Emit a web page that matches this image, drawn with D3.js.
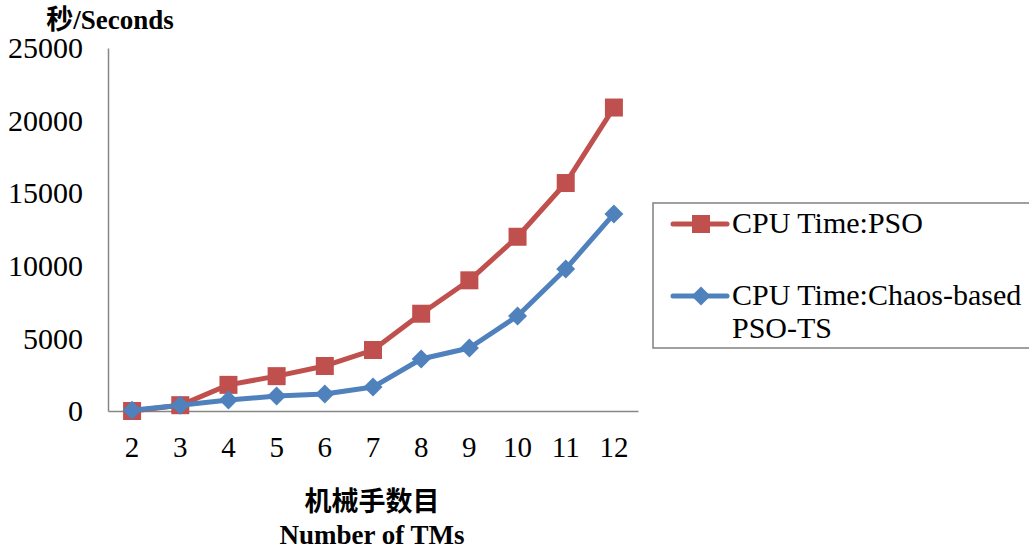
<!DOCTYPE html>
<html><head><meta charset="utf-8">
<script src="https://cdn.jsdelivr.net/npm/d3@7"></script>
<style>body{margin:0;background:#fff}svg{display:block}
svg text{font-family:"Liberation Serif","Noto Sans CJK SC",serif !important}</style>
</head><body><svg id="c" width="1029" height="550"></svg>
<script>
const categories = ["2","3","4","5","6","7","8","9","10","11","12"];
const psoValues = [0,400,1800,2400,3100,4200,6700,9000,12000,15700,20900];
const chaosValues = [50,400,760,1030,1170,1650,3580,4340,6540,9780,13570];
const yTicks = [0,5000,10000,15000,20000,25000];
const seriesNames = ["CPU Time:PSO","CPU Time:Chaos-based PSO-TS"];

const svg = d3.select("#c");
const x = d3.scaleBand().domain(categories).range([108,638]);
const y = d3.scaleLinear().domain([0,25000]).range([411,48]);
const cx = d => x(d) + x.bandwidth()/2;

// axes
const yAxis = svg.append("g").attr("transform","translate(108,0)")
  .call(d3.axisLeft(y).tickValues(yTicks).tickSize(0).tickPadding(25).tickFormat(d3.format("d")));
yAxis.select(".domain").attr("stroke","#868686").attr("stroke-width",1.5);
yAxis.selectAll("text").attr("font-size",30).attr("fill","#000");

const xAxis = svg.append("g").attr("transform","translate(0,411)")
  .call(d3.axisBottom(x).tickSize(0).tickPadding(25));
xAxis.select(".domain").attr("stroke","#868686").attr("stroke-width",1.5);
xAxis.selectAll("text").attr("font-size",29).attr("fill","#000");

const line = d3.line().x((d,i)=>cx(categories[i])).y(d=>y(d));
const red = "#C0504D", blue = "#4F81BD";

svg.append("path").datum(psoValues).attr("d",line).attr("fill","none").attr("stroke",red).attr("stroke-width",5).attr("stroke-linejoin","round");
svg.append("g").selectAll("rect").data(psoValues).join("rect")
  .attr("x",(d,i)=>cx(categories[i])-9).attr("y",d=>y(d)-9).attr("width",18).attr("height",18).attr("fill",red);

svg.append("path").datum(chaosValues).attr("d",line).attr("fill","none").attr("stroke",blue).attr("stroke-width",5).attr("stroke-linejoin","round");
const diamond = d3.symbol().type(d3.symbolSquare).size(180);
svg.append("g").selectAll("path").data(chaosValues).join("path")
  .attr("d",diamond).attr("transform",(d,i)=>`translate(${cx(categories[i])},${y(d)}) rotate(45)`).attr("fill",blue);

// titles
svg.append("text").attr("x",110).attr("y",29).attr("text-anchor","middle")
  .attr("font-weight","bold").attr("font-size",27).text("秒/Seconds");
svg.append("text").attr("x",372).attr("y",511).attr("text-anchor","middle")
  .attr("font-weight","bold").attr("font-size",27).text("机械手数目");
svg.append("text").attr("x",372).attr("y",544).attr("text-anchor","middle")
  .attr("font-weight","bold").attr("font-size",27).text("Number of TMs");

// legend
const lg = svg.append("g");
lg.append("rect").attr("x",653).attr("y",203).attr("width",380).attr("height",145)
  .attr("fill","#fff").attr("stroke","#808080").attr("stroke-width",1.5);
lg.append("line").attr("x1",673).attr("x2",727).attr("y1",224).attr("y2",224).attr("stroke",red).attr("stroke-width",5).attr("stroke-linecap","round");
lg.append("rect").attr("x",692).attr("y",215).attr("width",18).attr("height",18).attr("fill",red);
lg.append("text").attr("x",732).attr("y",233).attr("font-size",30).text(seriesNames[0]);
lg.append("line").attr("x1",673).attr("x2",727).attr("y1",296).attr("y2",296).attr("stroke",blue).attr("stroke-width",5).attr("stroke-linecap","round");
lg.append("path").attr("d",diamond).attr("transform","translate(701,296) rotate(45)").attr("fill",blue);
const t2 = lg.append("text").attr("font-size",30);
t2.append("tspan").attr("x",732).attr("y",305).text("CPU Time:Chaos-based");
t2.append("tspan").attr("x",732).attr("y",338).text("PSO-TS");
</script></body></html>
